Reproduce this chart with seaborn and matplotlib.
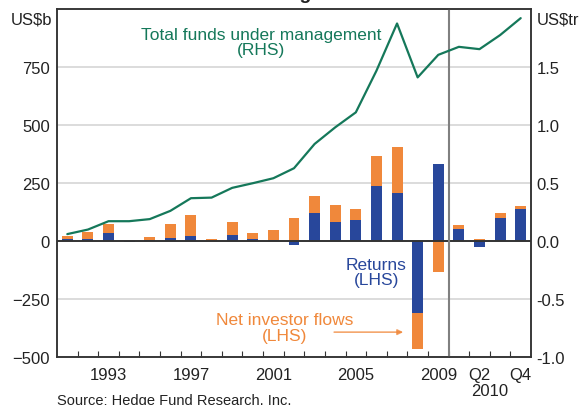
import matplotlib
matplotlib.use("Agg")
import matplotlib.pyplot as plt
import numpy as np
import pandas as pd
import seaborn as sns

# Hedge funds: annual 1991-2009, then quarterly 2010
periods = [str(y) for y in range(1991, 2010)] + ["Q1", "Q2", "Q3", "Q4"]
returns = [9, 10, 34, -3, 2, 12, 19, 1, 25, 10, 3, -16, 121, 79, 88, 234, 208,
           -309, 329, 53, -28, 100, 135]
flows = [12, 30, 39, 0, 15, 60, 93, 8, 55, 23, 44, 99, 74, 77, 47, 129, 198,
         -158, -132, 17, 9, 21, 16]
funds_tr = [0.058, 0.097, 0.169, 0.169, 0.187, 0.258, 0.367, 0.372, 0.456, 0.496,
            0.539, 0.625, 0.834, 0.977, 1.106, 1.464, 1.871, 1.407, 1.601, 1.670,
            1.650, 1.771, 1.917]

tick_pos = [2, 6, 10, 14, 18, 20, 22]
tick_labels = ["1993", "1997", "2001", "2005", "2009", "Q2", "Q4"]

BLUE = "#28479b"
ORANGE = "#f0883b"
GREEN = "#15785a"
TEXT = "#222222"

df = pd.DataFrame({"period": periods, "returns": returns, "flows": flows})
# flows stack on top of returns when both have the same sign, else start at zero
same_sign = np.sign(df["returns"]) == np.sign(df["flows"])
df["flow_base"] = np.where(same_sign, df["returns"], 0)

sns.set_theme(style="white")
plt.rcParams["font.family"] = ["Liberation Sans", "DejaVu Sans"]

fig = plt.figure(figsize=(5.83, 4.06), dpi=100)
ax = fig.add_axes([57 / 583, 1 - 358 / 406, 474 / 583, 348.5 / 406])

sns.barplot(data=df, x="period", y="returns", color=BLUE, saturation=1,
            width=0.53, linewidth=0, ax=ax, zorder=2)
sns.barplot(data=df, x="period", y="flows", color=ORANGE, saturation=1,
            width=0.53, linewidth=0, ax=ax, bottom=df["flow_base"].values, zorder=2)

ax.set_ylim(-500, 1000)
ax.set_yticks([-500, -250, 0, 250, 500, 750])
ax.yaxis.grid(True, color="#d2d2d2", lw=1.1)
ax.set_axisbelow(True)
ax.axhline(0, color="#333333", lw=1.4, zorder=3)
ax.axvline(18.5, color="#808080", lw=1.5, zorder=3)

ax2 = ax.twinx()
x_pos = np.arange(len(periods))
sns.lineplot(x=x_pos, y=funds_tr, color=GREEN, lw=1.6, ax=ax2)
ax2.set_ylim(-1, 2)
ax2.set_yticks([-1, -0.5, 0, 0.5, 1, 1.5])
ax2.set_yticklabels([f"{v:.1f}" for v in [-1, -0.5, 0, 0.5, 1, 1.5]])
ax2.set_ylabel("")

ax.set_xlim(-0.5, len(periods) - 0.5)
ax.set_xticks(tick_pos)
ax.set_xticklabels(tick_labels)
ax.set_xticks(np.arange(0.5, len(periods) - 1, 1), minor=True)
ax.set_xlabel("")
ax.set_ylabel("")

ax.tick_params(axis="x", which="major", length=0, pad=7, labelsize=12, labelcolor=TEXT)
ax.tick_params(axis="x", which="minor", direction="in", length=4.5, width=0.8,
               color="#333333", bottom=True)
ax.tick_params(axis="y", length=0, pad=5, labelsize=12, labelcolor=TEXT)
ax2.tick_params(axis="y", length=0, pad=4, labelsize=12, labelcolor=TEXT)

for a in (ax, ax2):
    for s in a.spines.values():
        s.set_color("#333333")
        s.set_linewidth(1.1)

# annotations
ax.text(9.4, 855, "Total funds under management\n(RHS)", color=GREEN,
        ha="center", va="center", fontsize=12.5, linespacing=1.05)
ax.text(15.0, -135, "Returns\n(LHS)", color=BLUE, ha="center", va="center",
        fontsize=12.5, linespacing=1.05)
ax.text(10.54, -373, "Net investor flows\n(LHS)", color=ORANGE, ha="center",
        va="center", fontsize=12.5, linespacing=1.05)
ax.annotate("", xy=(16.3, -393), xytext=(12.95, -393),
            arrowprops=dict(arrowstyle="-|>", color=ORANGE, alpha=0.75, lw=1.2,
                            mutation_scale=8, shrinkA=0, shrinkB=0))

# year label under the quarters
ax.annotate("2010", xy=(20.5, 0), xycoords=("data", "axes fraction"),
            xytext=(0, -24.3), textcoords="offset points", ha="center",
            va="center", fontsize=12, color=TEXT)

fig.text(52 / 583, 1 - 20 / 406, "US$b", ha="right", va="center", fontsize=12, color=TEXT)
fig.text(537 / 583, 1 - 20 / 406, "US$tr", ha="left", va="center", fontsize=12, color=TEXT)
fig.text(0.5, 1 + 1 / 406, "Global Hedge Funds", ha="center", va="baseline",
         fontsize=14, fontweight="bold", color=TEXT)
fig.text(57 / 583, 1 - 401 / 406, "Source: Hedge Fund Research, Inc.", ha="left",
         va="center", fontsize=10.5, color=TEXT)

fig.savefig("out.png", dpi=100)
